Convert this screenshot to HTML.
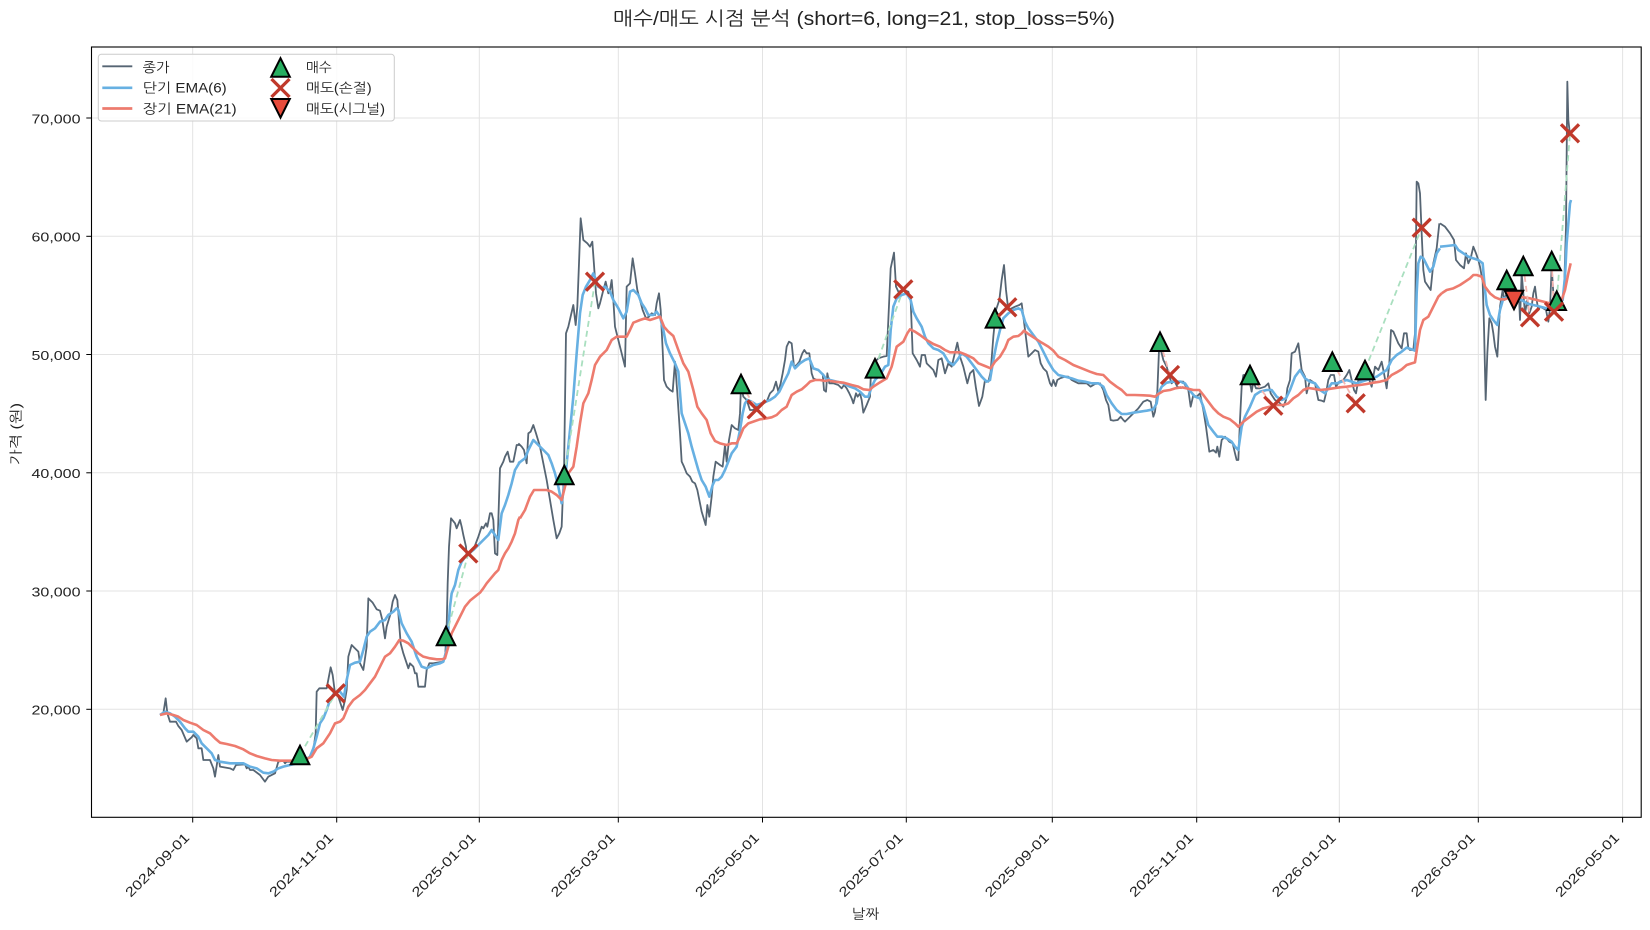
<!DOCTYPE html>
<html>
<head>
<meta charset="utf-8">
<style>
  html,body{margin:0;padding:0;background:#fff;}
  svg{display:block;}
  text{font-family:"Liberation Sans","NanumGothic","Noto Sans CJK KR",sans-serif;fill:#222;}
</style>
</head>
<body>
<svg width="1650" height="930" viewBox="0 0 1650 930" xmlns="http://www.w3.org/2000/svg">
  <defs>
    <path id="tu" d="M0,-9.3L-9.3,9.3L9.3,9.3Z"/>
    <path id="td" d="M0,9.3L-9.3,-9.3L9.3,-9.3Z"/>
    <path id="xm" d="M-9,-9L9,9M-9,9L9,-9"/>
  </defs>
  <rect x="0" y="0" width="1650" height="930" fill="#ffffff"/>

  <!-- grid -->
  <g stroke="#e3e3e3" stroke-width="1">
    <line x1="192.7" y1="47" x2="192.7" y2="817"/>
    <line x1="336.7" y1="47" x2="336.7" y2="817"/>
    <line x1="479.3" y1="47" x2="479.3" y2="817"/>
    <line x1="618.3" y1="47" x2="618.3" y2="817"/>
    <line x1="762.5" y1="47" x2="762.5" y2="817"/>
    <line x1="906.3" y1="47" x2="906.3" y2="817"/>
    <line x1="1052.3" y1="47" x2="1052.3" y2="817"/>
    <line x1="1196.7" y1="47" x2="1196.7" y2="817"/>
    <line x1="1339.3" y1="47" x2="1339.3" y2="817"/>
    <line x1="1478.3" y1="47" x2="1478.3" y2="817"/>
    <line x1="1622.6" y1="47" x2="1622.6" y2="817"/>
    <line x1="91.5" y1="709.3" x2="1641.2" y2="709.3"/>
    <line x1="91.5" y1="591.0" x2="1641.2" y2="591.0"/>
    <line x1="91.5" y1="472.8" x2="1641.2" y2="472.8"/>
    <line x1="91.5" y1="354.5" x2="1641.2" y2="354.5"/>
    <line x1="91.5" y1="236.3" x2="1641.2" y2="236.3"/>
    <line x1="91.5" y1="118.0" x2="1641.2" y2="118.0"/>
  </g>

  <!-- CLOSE (gray) -->
  <g fill="none" stroke="#566573" stroke-width="1.8" stroke-linejoin="round">
    <polyline vector-effect="non-scaling-stroke" transform="translate(150,420) scale(0.333333)" points="30,885 40,880 47,835 52,880 60,905 78,905 85,918 95,930 110,965 125,952 130,945 140,955 145,985 155,985 160,1020 180,1020 190,1045 195,1070 205,1005 210,1040 240,1045 250,1050 258,1035 285,1033 290,1045 295,1040 300,1050 310,1050 330,1065 345,1085 355,1070 375,1060 385,1025 400,1022 405,1030 410,1025 420,1025 435,1020 450,1020 470,1015 480,1010 490,990 497,940 500,815 508,805 530,805 542,742 548,765 555,820 565,830 578,870 585,840 590,810 595,710 605,675 615,685 625,695 630,730 640,750 650,680 655,535 668,548 680,568 690,572 697,600 705,655 710,620 722,580 728,545 735,525 742,540 752,670 760,700 775,745 780,730 790,740 795,760 800,760 805,800 825,800 830,750 838,730 848,730 880,725 886,700 890,620 893,490 897,380 903,295 915,310 920,325 930,300 935,320 940,345 948,380 950,410 960,400 970,390 985,350 995,320 1000,325 1008,310 1012,320 1020,280 1025,280 1030,300 1035,400 1042,405 1045,300 1050,145 1060,125 1065,110 1073,95 1080,125 1090,125 1100,75 1110,75"/>
    <polyline vector-effect="non-scaling-stroke" transform="translate(460,180) scale(0.333333)" points="175,790 185,800 192,810 200,850 205,760 212,755 220,735 228,760 240,800 250,850 260,900 270,960 280,1020 290,1075 298,1060 305,1040 308,960 312,880 318,460 325,440 333,405 340,375 347,435 352,380 357,250 362,115 370,180 382,190 390,200 397,185 402,255 408,340 415,385 420,370 430,330 437,305 445,340 450,330 455,300 460,360 465,440 475,480 485,520 495,560 500,320 510,310 518,235 525,280 532,330 540,360 548,390 558,415 567,410 575,400 585,405 590,370 597,340 602,390 608,510 612,600 620,620 630,630 638,635 645,545 652,640 660,760 665,845 672,860 680,880 690,890 697,905 705,910 712,930 718,960 725,995 737,1035 742,975 748,1010 755,950 760,890 767,845 780,855 788,860 795,795 800,845 807,780 815,735 825,745 835,750 840,700 843,615 850,650 860,660 870,690 880,690 890,680 900,680 910,670 920,665 930,640 940,630 948,605 955,635 962,610 968,580 975,540 980,500 987,485 995,490 1002,560 1010,555 1018,545 1027,520 1033,510 1040,520 1048,520 1055,580 1060,595 1070,600 1080,600 1088,600"/>
    <polyline vector-effect="non-scaling-stroke" transform="translate(820,220) scale(0.333333)" points="8,460 12,510 18,515 22,460 28,490 40,490 55,495 65,505 72,495 80,505 88,520 95,535 100,550 108,520 113,530 120,520 125,540 130,578 140,555 150,530 152,478 160,430 175,415 190,410 200,408 205,300 212,145 222,98 228,200 235,215 250,210 265,215 272,240 278,400 290,420 300,440 305,405 315,405 320,430 330,440 340,450 348,470 355,420 365,415 375,460 385,430 395,440 402,410 412,368 420,410 430,440 442,490 450,460 460,450 468,505 477,558 487,530 495,480 505,485 512,455 520,350 528,270 538,240 545,180 552,135 558,210 565,270 575,265 585,260 598,255 605,250 612,305 625,410 635,400 645,390 655,395 662,430 670,445 680,455 690,490 695,498 700,480 707,498 712,480 720,475 735,470 745,470 755,480 765,485 775,490 790,490 800,490 812,500 825,492 840,490 850,510 858,540 865,555 872,600 880,602 893,600 902,590 910,600 915,605 925,595 940,580 955,565 970,545 982,540 992,545 1000,590 1005,575 1012,515 1018,365 1022,388 1030,420 1040,440 1050,475 1055,490 1062,480 1072,500 1085,505"/>
    <polyline vector-effect="non-scaling-stroke" transform="translate(1180,160) scale(0.333333)" points="5,665 10,665 18,680 25,690 32,740 40,705 50,710 60,700 70,750 78,800 88,875 100,870 108,878 112,860 118,890 125,840 135,830 148,845 158,850 165,880 170,900 175,900 180,780 185,680 190,645 205,645 215,695 220,665 228,685 240,685 255,680 265,670 272,700 285,720 295,725 310,740 318,720 322,685 330,660 335,580 345,575 355,550 365,630 375,650 380,700 390,660 405,670 415,720 425,722 432,725 438,700 445,660 452,645 462,645 468,680 478,665 490,660 500,645 508,630 515,660 522,690 528,700 535,660 545,660 555,655 568,660 575,680 585,620 595,630 605,605 612,640 620,685 628,610 633,510 640,515 655,550 665,565 672,520 680,520 685,565 690,570 700,570 705,520 710,65 715,70 720,100 725,220 730,330 735,365 745,380 752,390 760,310 770,265 778,190"/>
    <polyline vector-effect="non-scaling-stroke" transform="translate(1440,60) scale(0.333333)" points="0,490 15,500 30,520 42,540 48,600 60,615 72,625 78,580 85,610 92,595 100,560 108,580 115,600 120,620 128,665 132,800 137,1020 142,880 148,775 155,790 160,820 165,860 172,890 180,740 188,690 193,720 200,700 205,690 212,710 220,740 230,700 237,710 240,780 245,640 250,700 255,760 262,720 268,760 275,740 280,700 285,680 290,720 295,750 300,740 310,745 318,750 325,785 330,745 335,620 340,700 345,745 355,740 365,720 372,700 378,500 382,65 385,180 389,215"/>
  </g>

  <!-- EMA 6 (blue) -->
  <g fill="none" stroke="#67b0e2" stroke-width="2.6" stroke-linejoin="round">
    <polyline vector-effect="non-scaling-stroke" transform="translate(150,420) scale(0.333333)" points="30,885 45,875 60,880 75,890 90,905 105,925 115,935 130,935 145,950 155,970 170,985 185,1000 195,1020 210,1025 240,1030 260,1030 280,1030 300,1040 320,1045 340,1058 355,1060 370,1055 385,1045 400,1040 420,1035 440,1030 460,1025 480,1010 490,985 500,950 510,910 520,895 530,870 540,840 555,815 570,815 582,830 590,780 600,735 615,728 630,725 640,690 650,650 660,635 675,625 690,605 705,600 715,585 730,575 740,565 745,570 755,610 770,640 785,665 800,710 815,740 830,745 850,735 870,730 880,725 890,690 900,560 905,520 915,495 925,450 935,425 950,405 970,390 985,375 1000,360 1015,345 1025,330 1035,345 1045,360 1055,280 1065,255 1075,225 1085,190 1095,150 1110,125"/>
    <polyline vector-effect="non-scaling-stroke" transform="translate(460,180) scale(0.333333)" points="175,850 195,835 205,810 220,780 235,795 250,810 265,825 275,850 285,880 295,920 305,970 315,900 330,750 340,650 350,520 360,400 368,345 378,320 390,300 400,280 408,300 415,320 425,325 435,320 450,335 460,360 475,385 490,415 500,395 510,335 520,330 535,345 545,370 555,385 565,405 580,405 590,395 600,410 610,450 618,490 630,520 645,550 655,575 665,700 675,730 685,760 695,800 705,835 715,870 725,900 737,920 748,950 758,915 765,900 775,900 785,890 795,870 805,845 815,820 830,800 840,750 848,700 855,670 862,660 875,665 890,675 905,670 918,665 930,660 945,650 958,635 970,610 985,580 995,545 1005,565 1020,550 1035,540 1048,535 1060,565 1075,570 1090,585 1100,600 1110,595"/>
    <polyline vector-effect="non-scaling-stroke" transform="translate(820,220) scale(0.333333)" points="30,480 50,485 70,490 90,500 105,505 120,515 135,530 145,530 155,500 165,480 180,465 195,440 205,435 212,330 220,260 230,235 245,225 260,220 272,240 280,275 290,295 305,320 315,350 325,370 340,385 355,390 370,400 385,425 400,435 412,420 425,400 440,410 455,430 470,450 485,470 500,485 510,480 520,420 530,370 540,330 550,295 565,280 580,270 595,265 605,270 615,305 625,325 640,345 655,365 670,395 685,425 700,450 715,465 735,470 755,475 775,482 795,485 815,490 835,490 850,500 860,525 875,550 890,570 905,582 920,582 940,578 960,575 980,572 1000,568 1010,550 1015,520 1025,500 1040,488 1055,485 1070,485 1085,485"/>
    <polyline vector-effect="non-scaling-stroke" transform="translate(1180,160) scale(0.333333)" points="5,667 15,670 28,690 45,710 60,715 70,740 85,795 100,815 112,830 125,830 140,835 155,845 165,860 175,870 185,800 195,770 210,740 225,705 240,695 260,690 275,690 290,710 305,720 318,715 330,690 345,650 360,630 375,655 390,665 405,670 420,690 435,700 445,685 455,670 470,670 485,665 500,660 515,665 530,670 545,665 560,660 575,655 590,650 605,640 620,630 635,600 650,585 665,575 680,563 695,568 705,572 710,400 715,310 722,290 730,295 740,315 750,335 760,320 770,280 780,265"/>
    <polyline vector-effect="non-scaling-stroke" transform="translate(1440,60) scale(0.333333)" points="0,560 20,558 45,555 55,570 70,580 85,590 100,595 115,600 128,610 135,690 140,735 150,765 160,780 172,795 180,750 190,715 200,712 215,715 230,720 245,720 260,730 280,735 300,740 320,745 340,740 355,730 368,720 375,650 380,550 385,490 390,430 393,420"/>
  </g>

  <!-- EMA 21 (red) -->
  <g fill="none" stroke="#ed7b6e" stroke-width="2.6" stroke-linejoin="round">
    <polyline vector-effect="non-scaling-stroke" transform="translate(150,420) scale(0.333333)" points="30,885 50,880 70,885 85,890 100,900 120,908 140,915 160,930 180,940 195,955 210,968 230,972 255,978 280,988 300,1000 320,1008 345,1015 365,1020 390,1022 410,1022 430,1022 450,1020 470,1017 485,1010 500,985 520,970 540,940 555,910 570,905 580,895 595,860 610,840 630,825 645,810 660,790 675,770 690,740 705,710 720,700 735,680 748,660 760,662 775,670 790,685 805,700 820,710 840,715 860,718 875,718 885,715 895,680 905,640 915,620 930,590 945,560 960,542 975,530 990,518 1000,505 1010,490 1020,478 1035,460 1045,450 1055,420 1065,400 1075,385 1085,365 1095,340 1105,300 1110,290"/>
    <polyline vector-effect="non-scaling-stroke" transform="translate(460,180) scale(0.333333)" points="180,1015 195,990 210,950 222,930 240,930 260,930 275,935 290,945 305,960 315,920 325,880 340,860 350,800 360,730 370,670 385,640 395,600 405,555 420,530 440,510 455,480 470,470 490,470 500,470 510,450 520,428 540,420 555,415 570,420 585,415 600,410 612,440 625,455 640,468 655,510 670,550 685,575 700,630 712,680 725,700 740,720 752,760 765,783 780,790 800,795 815,790 830,790 840,770 850,745 865,730 880,725 900,718 920,715 935,712 950,705 965,690 980,680 995,645 1010,635 1025,628 1040,615 1050,605 1065,600 1080,600 1095,603 1110,600"/>
    <polyline vector-effect="non-scaling-stroke" transform="translate(820,220) scale(0.333333)" points="30,483 45,485 70,488 95,495 115,500 130,508 148,510 160,500 180,487 200,475 215,440 230,380 250,365 262,340 270,328 285,335 300,345 320,360 340,372 360,380 375,390 390,397 405,397 420,397 440,405 460,415 475,430 495,438 512,445 525,425 540,410 555,385 565,360 580,350 595,348 605,340 612,332 625,342 645,355 665,368 685,380 700,392 715,410 735,420 760,435 785,445 810,455 830,462 850,465 870,485 890,500 905,510 920,525 945,525 970,526 990,527 1005,530 1015,522 1030,513 1050,510 1065,505 1085,502"/>
    <polyline vector-effect="non-scaling-stroke" transform="translate(1180,160) scale(0.333333)" points="5,682 20,685 40,690 58,690 70,705 85,725 100,745 115,760 130,770 150,778 165,790 175,800 190,785 210,770 230,755 250,745 270,740 290,735 310,735 325,730 340,715 355,705 370,690 385,684 400,686 420,690 440,688 460,685 480,682 500,680 520,677 540,675 560,672 580,668 600,665 620,660 635,645 650,637 665,628 680,615 695,610 705,607 712,560 720,510 730,480 745,470 760,440 775,410 785,400"/>
    <polyline vector-effect="non-scaling-stroke" transform="translate(1440,60) scale(0.333333)" points="5,700 20,690 40,685 60,675 75,665 90,655 100,645 110,645 125,650 135,680 150,700 165,712 180,718 195,718 210,712 230,710 250,712 270,715 290,720 310,725 330,730 350,728 365,720 375,690 385,640 392,610"/>
  </g>

  <!-- trade connection lines -->
  <g fill="none" stroke-width="1.8" stroke-dasharray="6,4">
    <g stroke="#a9dfbf">
      <line x1="300" y1="755" x2="335.7" y2="693.3"/>
      <line x1="446" y1="636" x2="468.3" y2="553.5"/>
      <line x1="564.3" y1="475" x2="595" y2="281.7"/>
      <line x1="875" y1="368.3" x2="903.3" y2="289.3"/>
      <line x1="995" y1="318.3" x2="1007.3" y2="307.3"/>
      <line x1="1365" y1="370" x2="1421.7" y2="227.7"/>
      <line x1="1556.7" y1="300.7" x2="1570" y2="133.3"/>
    </g>
    <g stroke="#f5b7b1">
      <line x1="741" y1="384" x2="756.7" y2="409.3"/>
      <line x1="1160" y1="341.7" x2="1170" y2="375"/>
      <line x1="1250" y1="375" x2="1273.3" y2="405.7"/>
      <line x1="1332.3" y1="361.7" x2="1355.7" y2="403.3"/>
      <line x1="1506.7" y1="280" x2="1514" y2="300"/>
      <line x1="1523.3" y1="266" x2="1530" y2="317.3"/>
      <line x1="1551.7" y1="261" x2="1554" y2="311.7"/>
    </g>
  </g>

  <!-- buy markers -->
  <g fill="#27ae60" stroke="#000" stroke-width="2" stroke-linejoin="miter">
    <use href="#tu" x="300" y="755"/>
    <use href="#tu" x="446" y="636"/>
    <use href="#tu" x="564.3" y="475"/>
    <use href="#tu" x="741" y="384"/>
    <use href="#tu" x="875" y="368.3"/>
    <use href="#tu" x="995" y="318.3"/>
    <use href="#tu" x="1160" y="341.7"/>
    <use href="#tu" x="1250" y="375"/>
    <use href="#tu" x="1332.3" y="361.7"/>
    <use href="#tu" x="1365" y="370"/>
    <use href="#tu" x="1506.7" y="280"/>
    <use href="#tu" x="1523.3" y="266"/>
    <use href="#tu" x="1551.7" y="261"/>
    <use href="#tu" x="1556.7" y="300.7"/>
  </g>
  <!-- stop-loss sells -->
  <g fill="none" stroke="#c0392b" stroke-width="3.3">
    <use href="#xm" x="335.7" y="693.3"/>
    <use href="#xm" x="468.3" y="553.5"/>
    <use href="#xm" x="595" y="281.7"/>
    <use href="#xm" x="756.7" y="409.3"/>
    <use href="#xm" x="903.3" y="289.3"/>
    <use href="#xm" x="1007.3" y="307.3"/>
    <use href="#xm" x="1170" y="375"/>
    <use href="#xm" x="1273.3" y="405.7"/>
    <use href="#xm" x="1355.7" y="403.3"/>
    <use href="#xm" x="1421.7" y="227.7"/>
    <use href="#xm" x="1530" y="317.3"/>
    <use href="#xm" x="1554" y="311.7"/>
    <use href="#xm" x="1570" y="133.3"/>
  </g>
  <!-- signal sell -->
  <g fill="#e74c3c" stroke="#000" stroke-width="2">
    <use href="#td" x="1514" y="300"/>
  </g>

  <!-- axes frame -->
  <rect x="91.5" y="47" width="1549.7" height="770.3" fill="none" stroke="#000" stroke-width="1.1"/>

  <!-- ticks -->
  <g stroke="#000" stroke-width="1">
    <line x1="192.7" y1="817.3" x2="192.7" y2="822.5"/>
    <line x1="336.7" y1="817.3" x2="336.7" y2="822.5"/>
    <line x1="479.3" y1="817.3" x2="479.3" y2="822.5"/>
    <line x1="618.3" y1="817.3" x2="618.3" y2="822.5"/>
    <line x1="762.5" y1="817.3" x2="762.5" y2="822.5"/>
    <line x1="906.3" y1="817.3" x2="906.3" y2="822.5"/>
    <line x1="1052.3" y1="817.3" x2="1052.3" y2="822.5"/>
    <line x1="1196.7" y1="817.3" x2="1196.7" y2="822.5"/>
    <line x1="1339.3" y1="817.3" x2="1339.3" y2="822.5"/>
    <line x1="1478.3" y1="817.3" x2="1478.3" y2="822.5"/>
    <line x1="1622.6" y1="817.3" x2="1622.6" y2="822.5"/>
    <line x1="86.3" y1="709.3" x2="91.5" y2="709.3"/>
    <line x1="86.3" y1="591.0" x2="91.5" y2="591.0"/>
    <line x1="86.3" y1="472.8" x2="91.5" y2="472.8"/>
    <line x1="86.3" y1="354.5" x2="91.5" y2="354.5"/>
    <line x1="86.3" y1="236.3" x2="91.5" y2="236.3"/>
    <line x1="86.3" y1="118.0" x2="91.5" y2="118.0"/>
  </g>

  <!-- y tick labels -->
  <g font-size="13" text-anchor="end">
    <text x="80.5" y="714.6" textLength="49" lengthAdjust="spacingAndGlyphs">20,000</text>
    <text x="80.5" y="596.3" textLength="49" lengthAdjust="spacingAndGlyphs">30,000</text>
    <text x="80.5" y="478.1" textLength="49" lengthAdjust="spacingAndGlyphs">40,000</text>
    <text x="80.5" y="359.8" textLength="49" lengthAdjust="spacingAndGlyphs">50,000</text>
    <text x="80.5" y="241.6" textLength="49" lengthAdjust="spacingAndGlyphs">60,000</text>
    <text x="80.5" y="123.3" textLength="49" lengthAdjust="spacingAndGlyphs">70,000</text>
  </g>

  <!-- x tick labels -->
  <g font-size="13.5" text-anchor="end">
    <text transform="translate(190.2,838.5) rotate(-45)" textLength="84" lengthAdjust="spacingAndGlyphs">2024-09-01</text>
    <text transform="translate(334.2,838.5) rotate(-45)" textLength="84" lengthAdjust="spacingAndGlyphs">2024-11-01</text>
    <text transform="translate(476.8,838.5) rotate(-45)" textLength="84" lengthAdjust="spacingAndGlyphs">2025-01-01</text>
    <text transform="translate(615.8,838.5) rotate(-45)" textLength="84" lengthAdjust="spacingAndGlyphs">2025-03-01</text>
    <text transform="translate(760.0,838.5) rotate(-45)" textLength="84" lengthAdjust="spacingAndGlyphs">2025-05-01</text>
    <text transform="translate(903.8,838.5) rotate(-45)" textLength="84" lengthAdjust="spacingAndGlyphs">2025-07-01</text>
    <text transform="translate(1049.8,838.5) rotate(-45)" textLength="84" lengthAdjust="spacingAndGlyphs">2025-09-01</text>
    <text transform="translate(1194.2,838.5) rotate(-45)" textLength="84" lengthAdjust="spacingAndGlyphs">2025-11-01</text>
    <text transform="translate(1336.8,838.5) rotate(-45)" textLength="84" lengthAdjust="spacingAndGlyphs">2026-01-01</text>
    <text transform="translate(1475.8,838.5) rotate(-45)" textLength="84" lengthAdjust="spacingAndGlyphs">2026-03-01</text>
    <text transform="translate(1620.1,838.5) rotate(-45)" textLength="84" lengthAdjust="spacingAndGlyphs">2026-05-01</text>
  </g>

  <!-- axis labels & title -->
  <text x="865.5" y="918.5" font-size="13.5" text-anchor="middle" textLength="27.6" lengthAdjust="spacingAndGlyphs">날짜</text>
  <text transform="translate(20.5,434) rotate(-90)" font-size="13.5" text-anchor="middle" textLength="62" lengthAdjust="spacingAndGlyphs">가격 (원)</text>
  <text x="864" y="25" font-size="19" text-anchor="middle" textLength="502" lengthAdjust="spacingAndGlyphs">매수/매도 시점 분석 (short=6, long=21, stop_loss=5%)</text>

  <!-- legend -->
  <rect x="98.3" y="54.3" width="296" height="66.7" rx="3" ry="3" fill="#ffffff" fill-opacity="0.85" stroke="#cccccc" stroke-width="1"/>
  <line x1="102.3" y1="66.3" x2="132.3" y2="66.3" stroke="#566573" stroke-width="1.8"/>
  <line x1="102.3" y1="87.8" x2="132.3" y2="87.8" stroke="#67b0e2" stroke-width="2.7"/>
  <line x1="102.3" y1="108.5" x2="132.3" y2="108.5" stroke="#ed7b6e" stroke-width="2.7"/>
  <g font-size="13.5">
    <text x="142.7" y="71.8" textLength="26.7" lengthAdjust="spacingAndGlyphs">종가</text>
    <text x="142.7" y="92.6" textLength="84" lengthAdjust="spacingAndGlyphs">단기 EMA(6)</text>
    <text x="142.7" y="113.3" textLength="94" lengthAdjust="spacingAndGlyphs">장기 EMA(21)</text>
    <text x="306" y="71.8" textLength="25.7" lengthAdjust="spacingAndGlyphs">매수</text>
    <text x="306" y="92.6" textLength="65.7" lengthAdjust="spacingAndGlyphs">매도(손절)</text>
    <text x="306" y="113.3" textLength="79" lengthAdjust="spacingAndGlyphs">매도(시그널)</text>
  </g>
  <use href="#tu" x="280.5" y="67.5" fill="#27ae60" stroke="#000" stroke-width="2"/>
  <use href="#xm" x="280.5" y="88" fill="none" stroke="#c0392b" stroke-width="3.3"/>
  <use href="#td" x="280.5" y="108.3" fill="#e74c3c" stroke="#000" stroke-width="2"/>
</svg>
</body>
</html>
